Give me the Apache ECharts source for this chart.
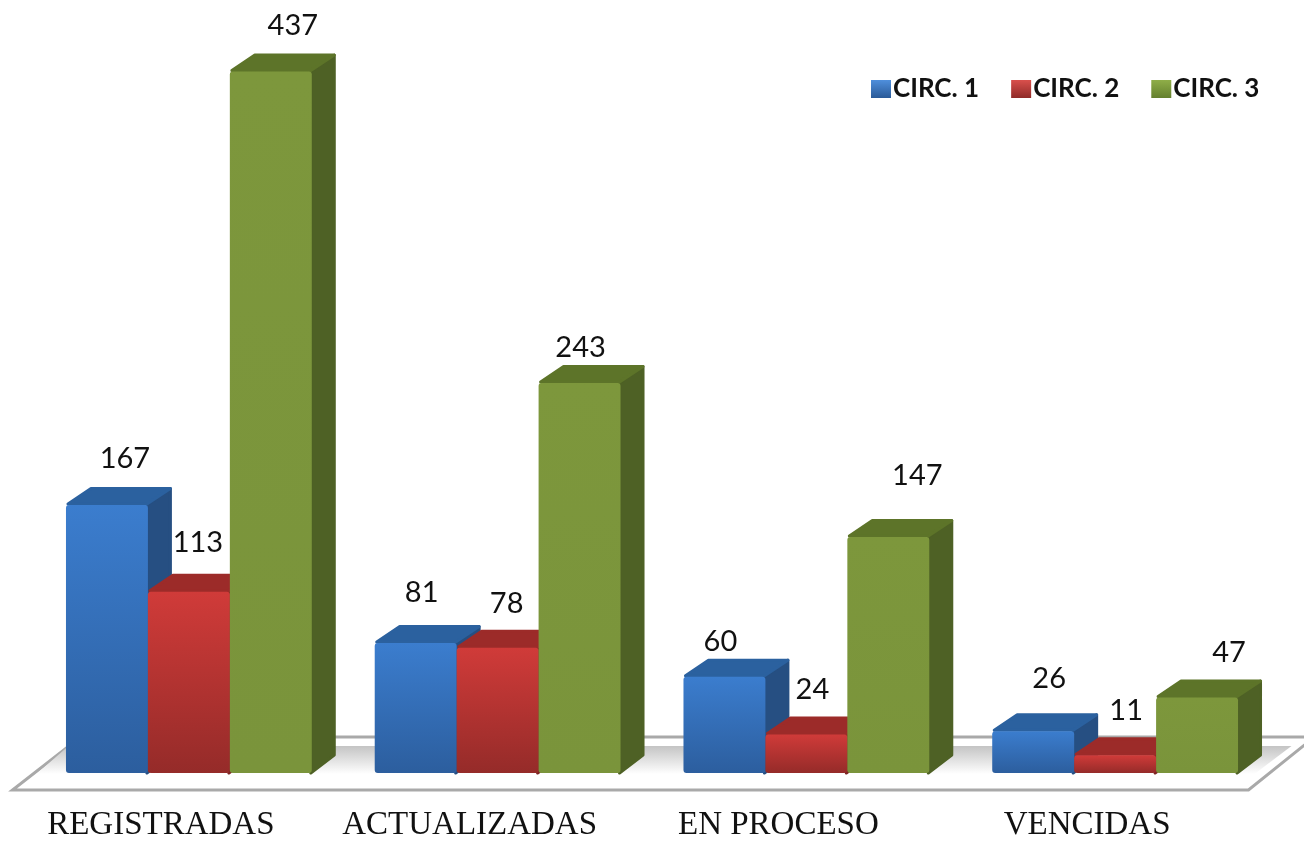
<!DOCTYPE html>
<html>
<head>
<meta charset="utf-8">
<style>
  html, body { margin: 0; padding: 0; background: #fff; }
  #chart { width: 1304px; height: 843px; }
</style>
<script src="https://cdn.jsdelivr.net/npm/echarts@6/dist/echarts.min.js"></script>
</head>
<body>
<div id="chart"></div>
<script>
const categories = ['REGISTRADAS', 'ACTUALIZADAS', 'EN PROCESO', 'VENCIDAS']
const circ1 = [167, 81, 60, 26]
const circ2 = [113, 78, 24, 11]
const circ3 = [437, 243, 147, 47]

// desplazamiento de cada etiqueta respecto al centro de la barra
const labelShift1 = [[18, -28], [6, -32], [-4, -17], [16, -35]]
const labelShift2 = [[9, -31], [9, -26], [6, -27], [11, -27]]
const labelShift3 = [[22, -28], [1, -17], [29, -43], [32, -27]]

const DEPTH_X = 24
const DEPTH_Y = 18

function vGrad(a, b) {
  return new echarts.graphic.LinearGradient(0, 0, 0, 1, [
    { offset: 0, color: a },
    { offset: 1, color: b }
  ])
}

const styles = [
  { front: ['#3b7dce', '#2c5e9e'], top: '#2b619f', side: '#264f82' },
  { front: ['#d03b39', '#952b29'], top: '#9c2b29', side: '#7d2423' },
  { front: ['#7d973c', '#7a943b'], top: '#5d7429', side: '#4e6125' }
]

function bar3d(idx, shifts) {
  return function (params, api) {
    const cat = api.value(0)
    const band = api.size([1, 0])[0]
    const w = band * 82 / 309
    const c = api.coord([cat, 0])
    const base = c[1]
    const topY = api.coord([cat, api.value(1)])[1]
    const x = c[0] + (idx - 1) * w - w / 2
    const st = styles[idx]
    const shift = shifts[cat]
    const edge = (color) => ({ fill: color, stroke: color, lineWidth: 3, lineJoin: 'round' })
    return {
      type: 'group',
      children: [
        {
          type: 'polygon',
          shape: { points: [[x + w - 1, topY], [x + w + DEPTH_X - 1.5, topY - DEPTH_Y + 1.5], [x + w + DEPTH_X - 1.5, base - DEPTH_Y], [x + w - 1, base]] },
          style: edge(st.side)
        },
        {
          type: 'polygon',
          shape: { points: [[x + 2, topY - 1], [x + DEPTH_X + 1, topY - DEPTH_Y + 1.5], [x + w + DEPTH_X - 1.5, topY - DEPTH_Y + 1.5], [x + w - 1, topY - 1]] },
          style: edge(st.top)
        },
        {
          type: 'rect',
          shape: { x: x, y: topY, width: w, height: base - topY, r: 3 },
          style: { fill: vGrad(st.front[0], st.front[1]) }
        },
        {
          type: 'text',
          z2: 10,
          style: {
            text: String(api.value(1)),
            x: x + w / 2 + shift[0],
            y: topY - DEPTH_Y + shift[1],
            align: 'center',
            verticalAlign: 'middle',
            fill: '#111',
            font: '29px Lato, sans-serif'
          }
        }
      ]
    }
  }
}

function floor(params, api) {
  const g = params.coordSys
  const base = g.y + g.height
  const l = g.x
  const r = g.x + g.width
  return {
    type: 'group',
    children: [
      {
        type: 'polygon',
        shape: { points: [[l - 22, base + 17], [r - 21, base + 17], [r + 45, base - 36], [l + 46, base - 36]] },
        style: { fill: '#fff', stroke: '#a9a9a9', lineWidth: 3, lineJoin: 'miter' }
      },
      {
        type: 'polygon',
        shape: { points: [[l + 2, base + 1], [r - 15, base + 1], [r + 22, base - 27], [l + 34, base - 27]] },
        style: { fill: vGrad('#c4c4c4', '#ffffff') }
      }
    ]
  }
}

function toRows(values) {
  return values.map((v, i) => [i, v])
}

const names = ['CIRC. 1', 'CIRC. 2', 'CIRC. 3']
const legendColors = [['#4f8fdc', '#2a5a98'], ['#d9504c', '#8f2a28'], ['#8fae48', '#64802e']]

const chart = echarts.init(document.getElementById('chart'))
chart.setOption({
  animation: false,
  backgroundColor: '#fff',
  grid: { left: 34.5, right: 34.5, top: 66.8, bottom: 70 },
  legend: {
    left: 866,
    top: 71,
    itemWidth: 20,
    itemHeight: 18,
    itemGap: 32,
    icon: 'rect',
    textStyle: { fontFamily: 'Lato, sans-serif', fontWeight: 'bold', fontSize: 26, color: '#111', padding: [0, 0, 0, -3] },
    data: names.map((n, i) => ({
      name: n,
      itemStyle: { color: vGrad(legendColors[i][0], legendColors[i][1]) }
    }))
  },
  xAxis: {
    type: 'category',
    data: categories,
    axisLine: { show: false },
    axisTick: { show: false },
    axisLabel: {
      margin: 36,
      padding: [0, 56, 0, 0],
      interval: 0,
      fontFamily: '"Liberation Serif", serif',
      fontSize: 33,
      color: '#111'
    }
  },
  yAxis: { type: 'value', min: 0, max: 440, show: false, splitLine: { show: false } },
  series: [
    { name: 'floor', type: 'custom', z: 1, renderItem: floor, data: [[0, 0]], silent: true },
    { name: names[0], type: 'custom', z: 2, itemStyle: { color: '#2c5e9e' }, renderItem: bar3d(0, labelShift1), encode: { x: 0, y: 1 }, data: toRows(circ1) },
    { name: names[1], type: 'custom', z: 3, itemStyle: { color: '#952b29' }, renderItem: bar3d(1, labelShift2), encode: { x: 0, y: 1 }, data: toRows(circ2) },
    { name: names[2], type: 'custom', z: 4, itemStyle: { color: '#7a943b' }, renderItem: bar3d(2, labelShift3), encode: { x: 0, y: 1 }, data: toRows(circ3) }
  ]
})
window.addEventListener('resize', chart.resize)
</script>
</body>
</html>
